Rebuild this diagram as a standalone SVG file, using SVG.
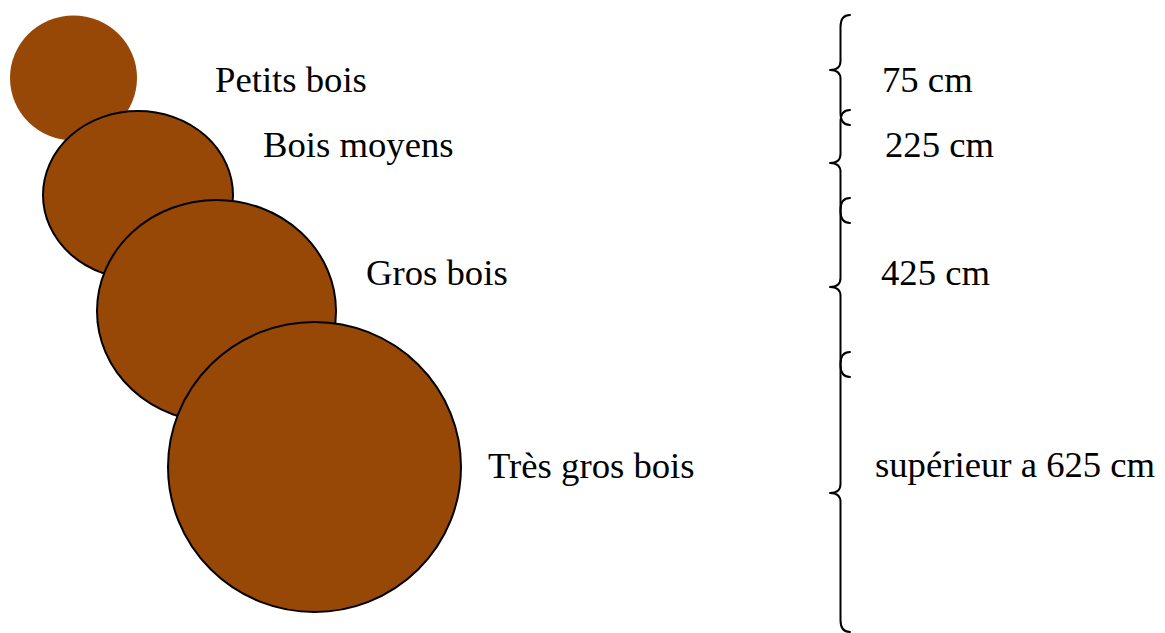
<svg xmlns="http://www.w3.org/2000/svg" width="1165" height="633" viewBox="0 0 1165 633">
  <style>
    .log { fill: #974806; }
    .edge { stroke: #000; stroke-width: 2; }
    .lbl { font-family: "Liberation Serif", "Times New Roman", serif; font-size: 36.7px; fill: #000; }
    .brace { fill: none; stroke: #000; stroke-width: 2; stroke-linecap: round; stroke-linejoin: round; }
  </style>
  <rect width="1165" height="633" fill="#fff"/>

  <!-- trunk cross-sections, smallest first so larger ones overlap -->
  <g id="petits-bois">
    <ellipse class="log" cx="73.5" cy="78" rx="63.5" ry="62.5"/>
    <text class="lbl" x="215" y="92">Petits bois</text>
  </g>
  <g id="bois-moyens">
    <ellipse class="log edge" cx="138" cy="195" rx="95" ry="84"/>
    <text class="lbl" x="263" y="157">Bois moyens</text>
  </g>
  <g id="gros-bois">
    <ellipse class="log edge" cx="216.5" cy="311" rx="119.5" ry="111"/>
    <text class="lbl" x="366" y="285">Gros bois</text>
  </g>
  <g id="tres-gros-bois">
    <ellipse class="log edge" cx="314.5" cy="467" rx="146.5" ry="145"/>
    <text class="lbl" x="488" y="478">Très gros bois</text>
  </g>

  <!-- circumference ranges -->
  <g id="braces">
    <path class="brace" d="M850,15 Q840.5,15 840.5,27 L840.5,61 Q840.5,70 830,70 Q840.5,70 840.5,79 L840.5,113 Q840.5,125 850,125"/>
    <path class="brace" d="M850,110 Q840.5,110 840.5,122 L840.5,154 Q840.5,163 830,163 Q840.5,163 840.5,172 L840.5,211 Q840.5,223 850,223"/>
    <path class="brace" d="M850,198 Q840.5,198 840.5,210 L840.5,278 Q840.5,287 830,287 Q840.5,287 840.5,296 L840.5,365 Q840.5,377 850,377"/>
    <path class="brace" d="M850,352 Q840.5,352 840.5,364 L840.5,484 Q840.5,493 830,493 Q840.5,493 840.5,502 L840.5,620 Q840.5,632 850,632"/>
  </g>

  <g id="sizes">
    <text class="lbl" x="882" y="92">75 cm</text>
    <text class="lbl" x="885" y="157">225 cm</text>
    <text class="lbl" x="881" y="285">425 cm</text>
    <text class="lbl" x="875" y="477">supérieur a 625 cm</text>
  </g>
</svg>
